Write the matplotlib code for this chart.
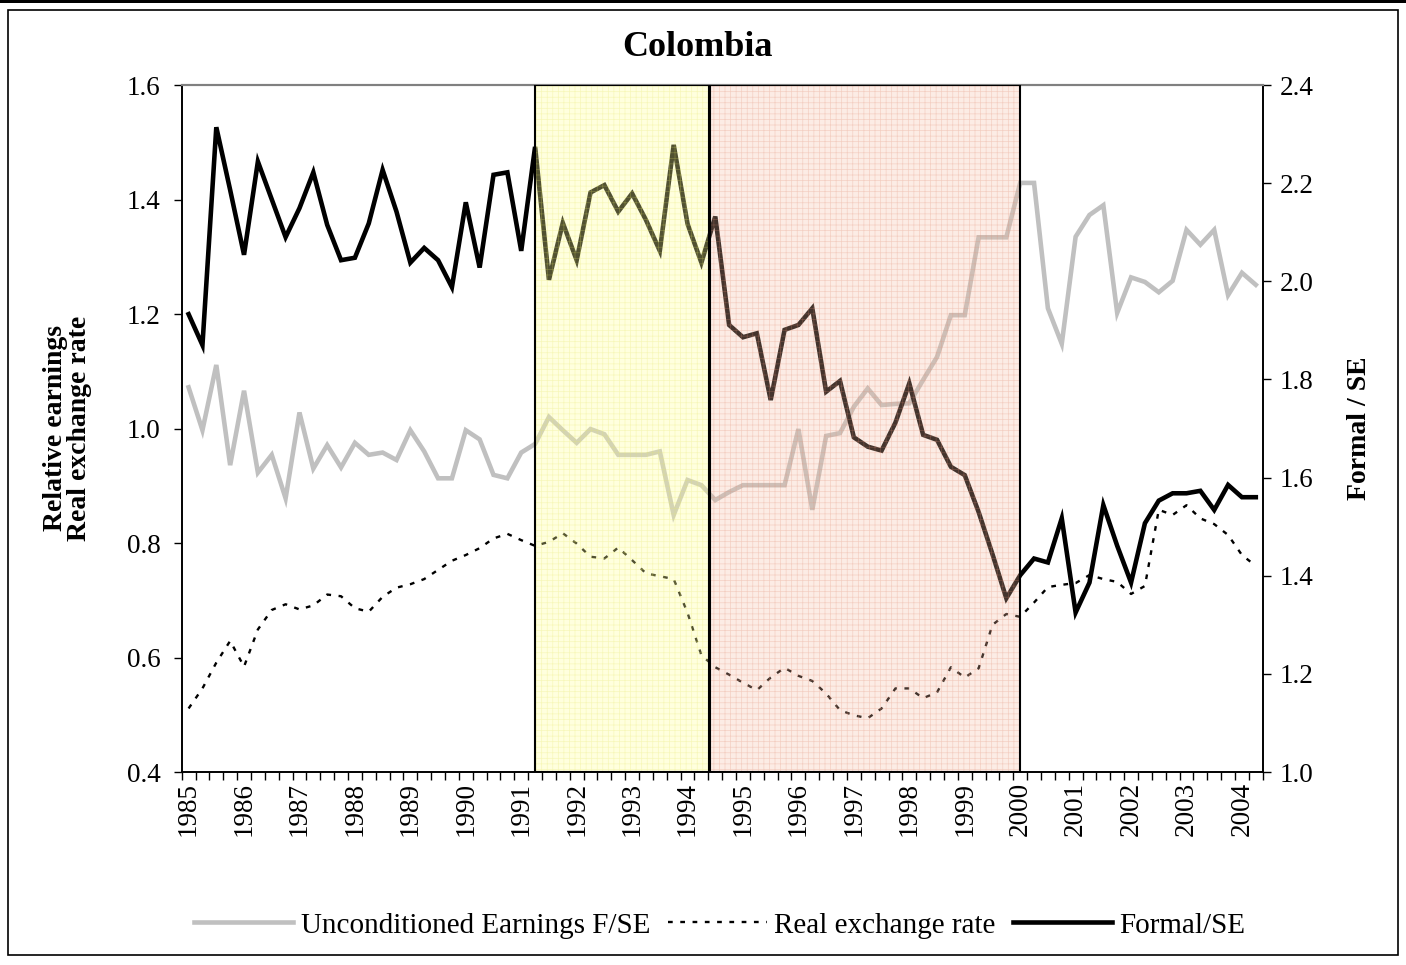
import numpy as np
import matplotlib
matplotlib.use("Agg")
from matplotlib import pyplot as plt
from matplotlib.patches import Rectangle
from matplotlib.lines import Line2D

plt.rcParams['font.family'] = ['Liberation Serif', 'DejaVu Serif']
plt.rcParams['hatch.linewidth'] = 0.5

# quarterly data, 1985Q1 .. 2004Q2
years = list(range(1985, 2005))

earnings_fse = [1.072, 0.997, 1.111, 0.936, 1.066, 0.923, 0.954, 0.878, 1.028, 0.930,
                0.971, 0.932, 0.975, 0.954, 0.958, 0.945, 0.997, 0.960, 0.913, 0.913,
                0.997, 0.981, 0.919, 0.913, 0.958, 0.973, 1.020, 0.997, 0.975, 0.999,
                0.990, 0.954, 0.954, 0.954, 0.960, 0.849, 0.910, 0.901, 0.875, 0.889,
                0.901, 0.901, 0.901, 0.901, 0.999, 0.858, 0.987, 0.992, 1.038, 1.070,
                1.041, 1.043, 1.044, 1.085, 1.125, 1.198, 1.198, 1.334, 1.334, 1.334,
                1.429, 1.429, 1.210, 1.148, 1.335, 1.373, 1.390, 1.202, 1.264, 1.256,
                1.238, 1.258, 1.347, 1.321, 1.347, 1.233, 1.272, 1.251]

real_exchange = [0.511, 0.546, 0.591, 0.629, 0.584, 0.649, 0.683, 0.693, 0.684, 0.691,
                 0.710, 0.707, 0.686, 0.680, 0.706, 0.722, 0.728, 0.737, 0.753, 0.769,
                 0.779, 0.791, 0.808, 0.816, 0.805, 0.795, 0.802, 0.817, 0.799, 0.776,
                 0.773, 0.792, 0.770, 0.747, 0.742, 0.737, 0.678, 0.604, 0.583, 0.570,
                 0.556, 0.543, 0.565, 0.582, 0.568, 0.559, 0.537, 0.508, 0.499, 0.494,
                 0.511, 0.546, 0.546, 0.529, 0.539, 0.583, 0.565, 0.581, 0.657, 0.676,
                 0.671, 0.696, 0.723, 0.727, 0.730, 0.744, 0.737, 0.732, 0.711, 0.725,
                 0.858, 0.849, 0.866, 0.843, 0.833, 0.814, 0.779, 0.760]

formal_se = [1.933, 1.870, 2.314, 2.186, 2.054, 2.244, 2.167, 2.090, 2.149, 2.222,
             2.115, 2.043, 2.048, 2.118, 2.227, 2.142, 2.038, 2.068, 2.043, 1.988,
             2.161, 2.028, 2.217, 2.222, 2.062, 2.274, 2.003, 2.119, 2.043, 2.181,
             2.196, 2.142, 2.179, 2.125, 2.062, 2.278, 2.117, 2.038, 2.132, 1.911,
             1.886, 1.894, 1.758, 1.901, 1.911, 1.945, 1.775, 1.797, 1.682, 1.663,
             1.655, 1.712, 1.792, 1.687, 1.677, 1.622, 1.605, 1.530, 1.444, 1.354,
             1.401, 1.435, 1.427, 1.517, 1.325, 1.386, 1.544, 1.461, 1.386, 1.507,
             1.553, 1.568, 1.568, 1.573, 1.534, 1.585, 1.560, 1.560]

# shaded periods (in quarter index units)
period_yellow = (25.0, 37.55)
period_pink = (37.6, 60.0)

x = np.arange(len(formal_se))

fig = plt.figure(figsize=(14.06, 9.65), dpi=100)
ax = fig.add_axes([0.1292, 0.2, 0.7689, 0.7119])
ax2 = ax.twinx()

ax.plot(x, earnings_fse, color='#c0c0c0', lw=3.3, solid_joinstyle='miter', zorder=2)
ax.plot(x, real_exchange, color='black', lw=1.7, ls=(0, (2.0, 3.2)), zorder=3)
ax2.plot(x, formal_se, color='black', lw=3.3, solid_joinstyle='miter', zorder=2)

# the two period boxes sit on top of the lines
for (x0, x1), fc, hc in [(period_yellow, (1.0, 1.0, 0.6, 0.32), (0.9, 0.9, 0.4, 0.30)),
                         (period_pink, (0.96, 0.74, 0.64, 0.28), (0.88, 0.55, 0.45, 0.30))]:
    ax2.add_patch(Rectangle((x0, 0), x1 - x0, 1, transform=ax2.get_xaxis_transform(),
                            fc=fc, ec=hc, hatch='+++', lw=0, zorder=5))
    ax2.add_patch(Rectangle((x0, 0), x1 - x0, 1, transform=ax2.get_xaxis_transform(),
                            fill=False, ec='black', lw=1.5, zorder=6))

ax.set_xlim(-0.5, len(x) - 0.5)
ax.set_ylim(0.4, 1.6)
ax2.set_ylim(1.0, 2.4)
ax.set_yticks(np.arange(0.4, 1.61, 0.2))
ax.set_yticklabels(['%.1f' % v for v in np.arange(0.4, 1.61, 0.2)])
ax2.set_yticks(np.arange(1.0, 2.41, 0.2))
ax2.set_yticklabels(['%.1f' % v for v in np.arange(1.0, 2.41, 0.2)])

ax.set_xticks(np.arange(0, len(x), 4))
ax.set_xticklabels([str(y) for y in years], rotation=90)
ax.set_xticks(np.arange(-0.5, len(x), 1), minor=True)
ax.tick_params(axis='x', which='major', length=0, pad=7, labelsize=19.5)
ax.tick_params(axis='x', which='minor', length=6, width=1, direction='out')
ax.tick_params(axis='y', length=6, width=1, labelsize=19.5, pad=9)
ax2.tick_params(axis='y', length=6, width=1, labelsize=19.5, pad=6)

for a in (ax, ax2):
    a.spines['top'].set_color('#808080')
    a.spines['top'].set_linewidth(1.5)
    for s in ('left', 'right', 'bottom'):
        a.spines[s].set_linewidth(1.2)

fig.text(0.496, 0.951, 'Colombia', fontsize=26, fontweight='bold', ha='center', va='center')
fig.text(0.0483, 0.5565, 'Relative earnings\nReal exchange rate', fontsize=20,
         fontweight='bold', rotation=90, ha='center', va='center', linespacing=0.95)
fig.text(0.967, 0.5565, 'Formal / SE', fontsize=20, fontweight='bold',
         rotation=90, ha='center', va='center')

handles = [Line2D([], [], color='#c0c0c0', lw=3.3),
           Line2D([], [], color='black', lw=1.7, ls=(0, (2.0, 3.2))),
           Line2D([], [], color='black', lw=3.3)]
labels = ['Unconditioned Earnings F/SE', 'Real exchange rate', 'Formal/SE']
fig.legend(handles, labels, loc='center', bbox_to_anchor=(0.512, 0.041), ncol=3,
           frameon=False, fontsize=21, handlelength=3.4, columnspacing=0.6,
           handletextpad=0.25)

# outer frame of the chart
fig.add_artist(Rectangle((8 / 1406, 1 - 955 / 965), 1390 / 1406, 945 / 965,
                         transform=fig.transFigure, fill=False, ec='black', lw=1.2))
fig.add_artist(Rectangle((0, 1 - 3 / 965), 1, 3 / 965, transform=fig.transFigure,
                         fc='black', ec='none'))

fig.savefig('out.png', dpi=100)
